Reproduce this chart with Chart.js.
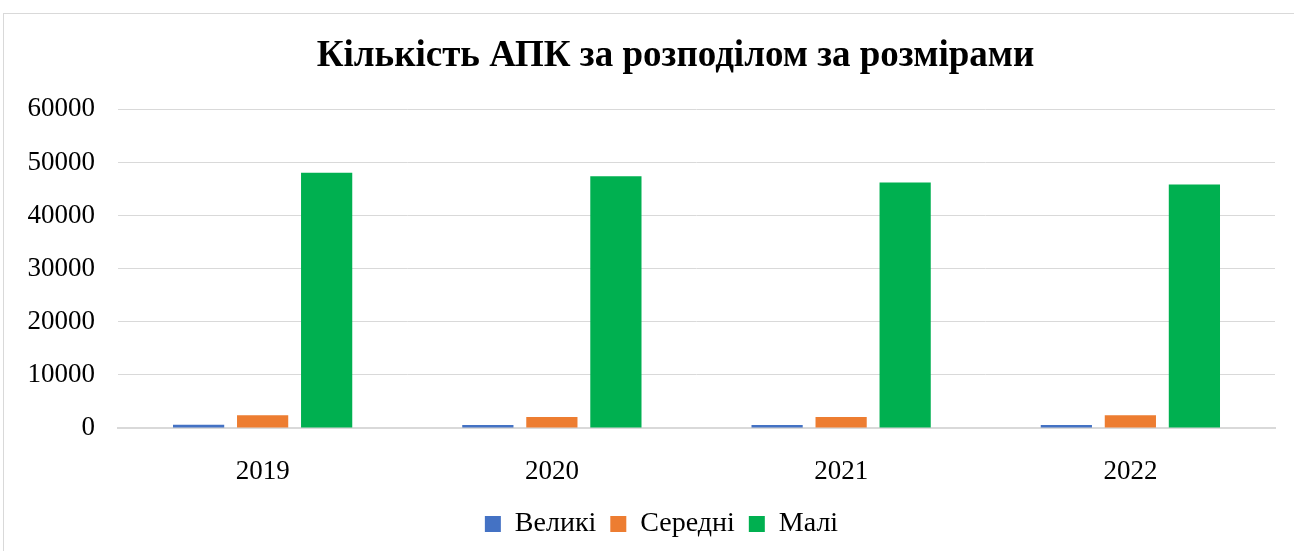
<!DOCTYPE html>
<html>
<head>
<meta charset="utf-8">
<script src="https://cdn.jsdelivr.net/npm/chart.js@4/dist/chart.umd.min.js"></script>
<style>
html,body{margin:0;padding:0;background:#fff;overflow:hidden;}
#wrap{position:relative;width:1294px;height:551px;}
#frame{position:absolute;left:3px;top:13px;width:1400px;height:700px;border:1px solid #d9d9d9;box-sizing:border-box;}
canvas{position:absolute;left:0;top:0;}
</style>
</head>
<body>
<div id="wrap"><div id="frame"></div><canvas id="c" width="1294" height="551"></canvas></div>
<script>
const categories = ["2019", "2020", "2021", "2022"];
const seriesNames = ["Великі", "Середні", "Малі"];
const large = [600, 560, 580, 560];
const medium = [2400, 2050, 2050, 2400];
const small = [48050, 47400, 46250, 45850];
const yTicks = [0, 10000, 20000, 30000, 40000, 50000, 60000];
const titleText = "Кількість АПК за розподілом за розмірами";

const colors = ["#4472C4", "#ED7D31", "#00B050"];
const serif = "'Liberation Serif', 'Times New Roman', serif";

const shiftBlocks = {
  id: 'shiftBlocks',
  afterLayout(chart) {
    const t = chart.titleBlock;
    if (t) { t.left += 33; t.right += 33; }
    const l = chart.legend;
    if (l) { l.left += 19; l.right += 19; }
  }
};

new Chart(document.getElementById('c'), {
  type: 'bar',
  data: {
    labels: categories,
    datasets: [large, medium, small].map((d, i) => ({
      label: seriesNames[i],
      data: d,
      backgroundColor: colors[i],
      borderWidth: 0,
      categoryPercentage: 0.664,
      barPercentage: 0.8
    }))
  },
  options: {
    responsive: false,
    animation: false,
    layout: { padding: { top: 34, bottom: 3, left: 10, right: 19 } },
    plugins: {
      title: {
        display: true,
        text: titleText,
        color: '#000',
        font: { family: serif, size: 37, weight: 'bold', lineHeight: 1.2 },
        padding: { top: 0, bottom: 31 }
      },
      legend: {
        position: 'bottom',
        labels: {
          color: '#000',
          font: { family: serif, size: 28 },
          boxWidth: 16,
          boxHeight: 16,
          padding: 14
        }
      },
      tooltip: { enabled: false }
    },
    scales: {
      x: {
        grid: { display: false },
        border: { color: '#d9d9d9', width: 2 },
        ticks: { color: '#000', font: { family: serif, size: 27 }, padding: 20 },
        afterFit: s => { s.height = 68; }
      },
      y: {
        min: 0,
        max: 60000,
        afterBuildTicks: s => { s.ticks = yTicks.map(v => ({ value: v })); },
        grid: { color: '#d9d9d9', lineWidth: 1, drawTicks: false },
        border: { display: false },
        ticks: { color: '#000', font: { family: serif, size: 27 }, padding: 23, callback: v => String(v) },
        afterFit: s => { s.width = 108; }
      }
    }
  },
  plugins: [shiftBlocks]
});
</script>
</body>
</html>
